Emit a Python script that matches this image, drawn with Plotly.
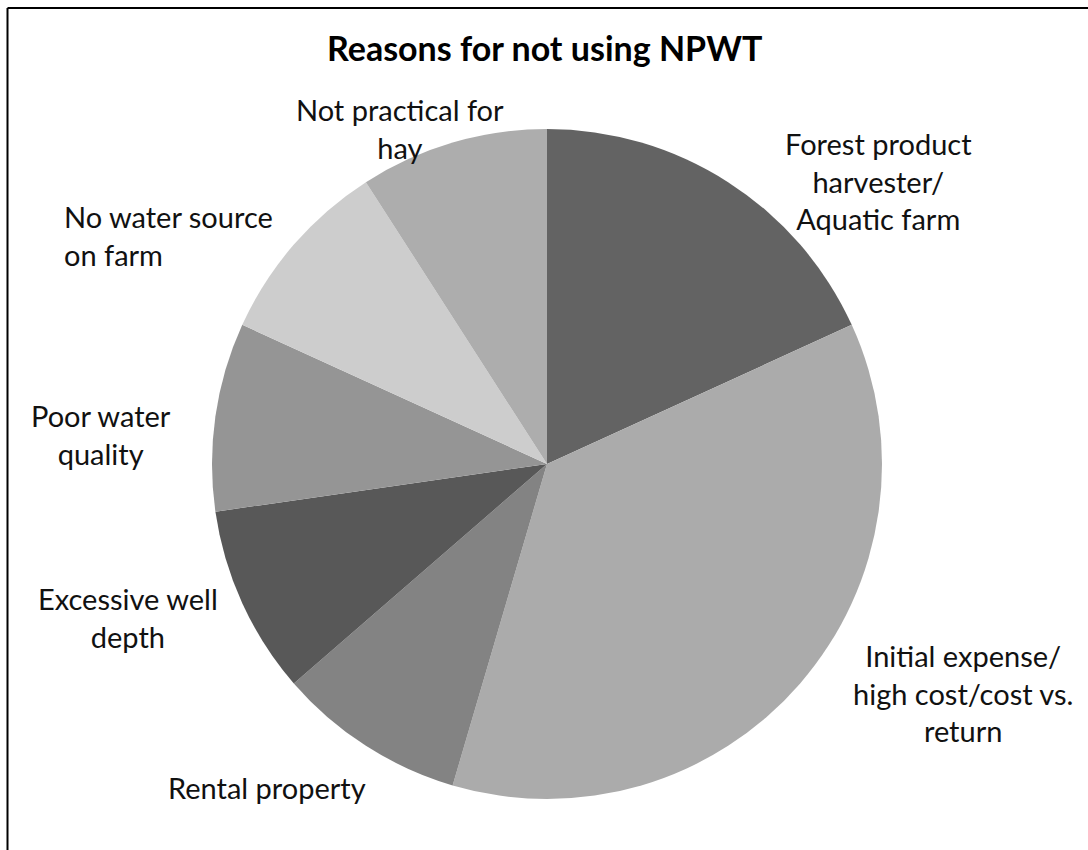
import plotly.graph_objects as go

# Reasons reported for not using NPWT (respondent counts)
reasons = [
    "Forest product<br>harvester/<br>Aquatic farm",
    "Initial expense/<br>high cost/cost vs.<br>return",
    "Rental property",
    "Excessive well<br>depth",
    "Poor water<br>quality",
    "No water source<br>on farm",
    "Not practical for<br>hay",
]
counts = [2, 4, 1, 1, 1, 1, 1]
slice_colors = ["#636363", "#ababab", "#838383", "#585858", "#959595", "#cdcdcd", "#adadad"]

# label placement (pixel anchors) and alignment
label_x = [878, 963, 267, 128, 101, 62, 400]
label_y = [181, 693, 787, 617, 434, 236, 129]
label_align = ["center", "center", "center", "center", "center", "left", "center"]

W, H = 1088, 850
cx, cy, r = 547, 464, 335

fig = go.Figure(
    go.Pie(
        labels=[t.replace("<br>", " ") for t in reasons],
        values=counts,
        sort=False,
        direction="clockwise",
        rotation=0,
        marker=dict(colors=slice_colors, line=dict(width=0)),
        textinfo="none",
        hoverinfo="label+value",
        showlegend=False,
        domain=dict(
            x=[(cx - r) / W, (cx + r) / W],
            y=[(H - cy - r) / H, (H - cy + r) / H],
        ),
    )
)

font_family = "Lato, 'Open Sans', sans-serif"
annotations = [
    dict(
        text="<b>Reasons for not using NPWT</b>",
        x=544 / W, y=1 - 47 / H, xref="paper", yref="paper",
        xanchor="center", yanchor="middle", showarrow=False,
        font=dict(family=font_family, size=34, color="#000000"),
    )
]
for txt, lx, ly, al in zip(reasons, label_x, label_y, label_align):
    annotations.append(
        dict(
            text=txt, x=lx / W, y=1 - ly / H, xref="paper", yref="paper",
            xanchor="left" if al == "left" else "center", yanchor="middle",
            align=al, showarrow=False,
            font=dict(family=font_family, size=29, color="#111111"),
        )
    )

# open frame: left and top edges
shapes = [
    dict(type="line", xref="paper", yref="paper", x0=7.5 / W, x1=7.5 / W, y0=0, y1=1 - 8 / H,
         line=dict(color="#000000", width=2)),
    dict(type="line", xref="paper", yref="paper", x0=7.5 / W, x1=1, y0=1 - 8 / H, y1=1 - 8 / H,
         line=dict(color="#000000", width=2)),
]

fig.update_layout(
    width=W, height=H,
    margin=dict(l=0, r=0, t=0, b=0),
    paper_bgcolor="#ffffff",
    plot_bgcolor="#ffffff",
    annotations=annotations,
    shapes=shapes,
)

fig.write_html("out.html")
